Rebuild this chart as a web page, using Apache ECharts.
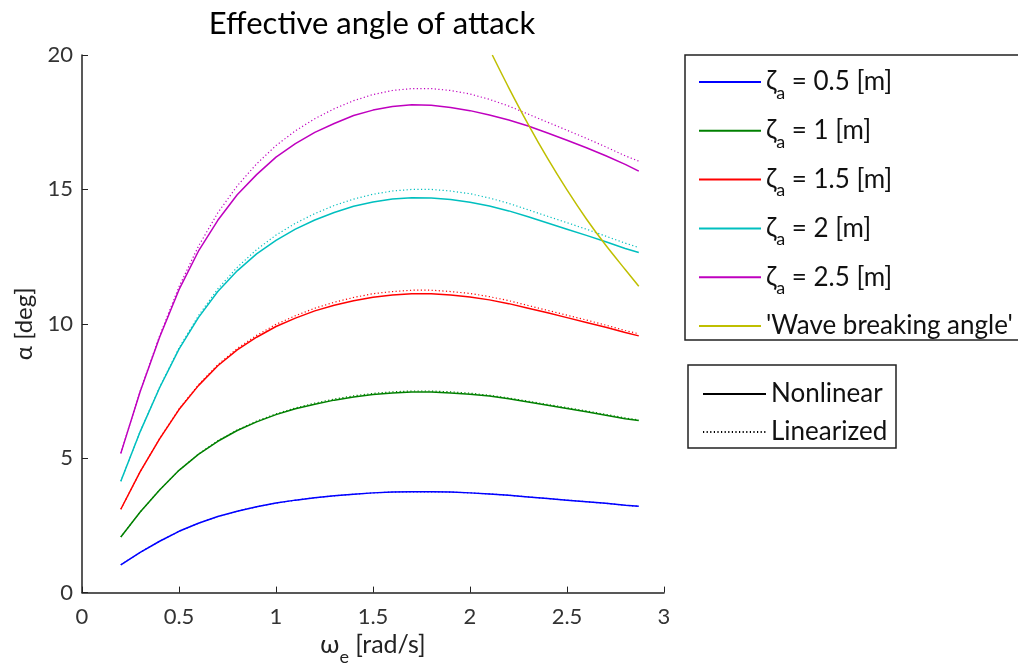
<!DOCTYPE html>
<html>
<head>
<meta charset="utf-8">
<script src="https://cdn.jsdelivr.net/npm/echarts@6/dist/echarts.min.js"></script>
<style>
  html, body { margin: 0; padding: 0; background: #fff; }
  #chart { width: 1018px; height: 671px; }
</style>
</head>
<body>
<div id="chart"></div>
<script>
// Encounter frequency grid [rad/s]
const omega = [0.2, 0.3, 0.4, 0.5, 0.6, 0.7, 0.8, 0.9, 1.0, 1.1, 1.2, 1.3, 1.4, 1.5,
               1.6, 1.7, 1.8, 1.9, 2.0, 2.1, 2.2, 2.3, 2.4, 2.5, 2.6, 2.7, 2.8, 2.87];

// Effective angle of attack [deg], nonlinear model
const nonlin05 = [1.03, 1.5, 1.91, 2.28, 2.58, 2.83, 3.03, 3.19, 3.33, 3.44, 3.53, 3.6, 3.66, 3.71,
                  3.74, 3.75, 3.75, 3.74, 3.71, 3.67, 3.62, 3.56, 3.5, 3.44, 3.38, 3.32, 3.25, 3.21];
const nonlin10 = [2.07, 3.0, 3.82, 4.55, 5.14, 5.63, 6.03, 6.35, 6.62, 6.84, 7.01, 7.16, 7.28, 7.37,
                  7.43, 7.46, 7.46, 7.43, 7.38, 7.31, 7.21, 7.09, 6.97, 6.85, 6.73, 6.6, 6.47, 6.4];
const nonlin15 = [3.1, 4.5, 5.72, 6.81, 7.7, 8.44, 9.03, 9.5, 9.9, 10.21, 10.48, 10.69, 10.86, 10.99,
                  11.07, 11.12, 11.12, 11.07, 11.0, 10.89, 10.75, 10.58, 10.41, 10.23, 10.05, 9.87, 9.68, 9.55];
const nonlin20 = [4.14, 5.99, 7.62, 9.06, 10.23, 11.2, 11.97, 12.6, 13.1, 13.52, 13.86, 14.14, 14.37, 14.53,
                  14.64, 14.69, 14.68, 14.62, 14.52, 14.38, 14.2, 13.98, 13.75, 13.52, 13.29, 13.05, 12.8, 12.65];
const nonlin25 = [5.18, 7.48, 9.5, 11.27, 12.7, 13.85, 14.8, 15.55, 16.2, 16.7, 17.12, 17.45, 17.75, 17.95,
                  18.08, 18.15, 18.13, 18.05, 17.93, 17.77, 17.58, 17.36, 17.1, 16.83, 16.55, 16.25, 15.93, 15.68];

// Effective angle of attack [deg], linearized model
const lin05 = [1.04, 1.5, 1.91, 2.28, 2.58, 2.83, 3.03, 3.19, 3.33, 3.44, 3.53, 3.6, 3.66, 3.71,
               3.74, 3.75, 3.75, 3.74, 3.71, 3.67, 3.62, 3.56, 3.5, 3.44, 3.38, 3.32, 3.25, 3.21];
const lin10 = [2.07, 3.0, 3.82, 4.55, 5.15, 5.65, 6.05, 6.38, 6.65, 6.87, 7.05, 7.2, 7.32, 7.41,
               7.47, 7.5, 7.5, 7.47, 7.42, 7.34, 7.24, 7.12, 7.0, 6.88, 6.76, 6.63, 6.5, 6.42];
const lin15 = [3.1, 4.5, 5.73, 6.83, 7.73, 8.48, 9.08, 9.57, 9.98, 10.3, 10.58, 10.8, 10.98, 11.12,
               11.2, 11.25, 11.25, 11.2, 11.13, 11.01, 10.86, 10.68, 10.5, 10.32, 10.14, 9.95, 9.75, 9.63];
const lin20 = [4.14, 6.0, 7.64, 9.1, 10.3, 11.3, 12.1, 12.76, 13.3, 13.74, 14.1, 14.4, 14.64, 14.82,
               14.94, 15.0, 15.0, 14.94, 14.84, 14.68, 14.48, 14.24, 14.0, 13.76, 13.52, 13.26, 13.0, 12.84];
const lin25 = [5.18, 7.5, 9.55, 11.38, 12.88, 14.13, 15.13, 15.95, 16.63, 17.18, 17.63, 18.0, 18.3, 18.53,
               18.68, 18.75, 18.75, 18.68, 18.55, 18.35, 18.1, 17.8, 17.5, 17.2, 16.9, 16.58, 16.25, 16.05];

// Wave breaking limit
const breakOmega = [2.115, 2.2, 2.3, 2.4, 2.5, 2.6, 2.7, 2.8, 2.87];
const breakAngle = [20.0, 18.78, 17.42, 16.15, 14.98, 13.9, 12.92, 12.02, 11.4];

const amplitudeLabels = ['0.5', '1', '1.5', '2', '2.5'];
const amplitudeColors = ['#0000ff', '#008000', '#ff0000', '#00bfbf', '#bf00bf'];
const breakColor = '#bfbf00';
const nonlinSets = [nonlin05, nonlin10, nonlin15, nonlin20, nonlin25];
const linSets = [lin05, lin10, lin15, lin20, lin25];

const xTicks = [0, 0.5, 1, 1.5, 2, 2.5, 3];
const yTicks = [0, 5, 10, 15, 20];

const FONT = 'Lato, "DejaVu Sans", sans-serif';
const zetaName = a => 'ζa = ' + a + ' [m]';
const breakName = "'Wave breaking angle'";
const DOTS = [1.2, 2.4];

const pairs = (xs, ys) => xs.map((x, i) => [x, ys[i]]);

const series = [];
amplitudeLabels.forEach((a, k) => {
  series.push({
    name: zetaName(a), type: 'line', symbol: 'none', silent: true,
    data: pairs(omega, nonlinSets[k]),
    lineStyle: { color: amplitudeColors[k], width: 1.5 },
    itemStyle: { color: amplitudeColors[k] },
    z: 3
  });
});
amplitudeLabels.forEach((a, k) => {
  series.push({
    name: zetaName(a) + ' linearized', type: 'line', symbol: 'none', silent: true,
    data: pairs(omega, linSets[k]),
    lineStyle: { color: amplitudeColors[k], width: 1.2, type: DOTS },
    itemStyle: { color: amplitudeColors[k] },
    z: 2
  });
});
series.push({
  name: breakName, type: 'line', symbol: 'none', silent: true, smooth: 0.3,
  data: pairs(breakOmega, breakAngle),
  lineStyle: { color: breakColor, width: 1.5 },
  itemStyle: { color: breakColor },
  z: 4
});
// Style-key entries (no data, only shown in the second legend)
series.push({
  name: 'Nonlinear', type: 'line', symbol: 'none', data: [],
  lineStyle: { color: '#000', width: 1.5 }, itemStyle: { color: '#000' }
});
series.push({
  name: 'Linearized', type: 'line', symbol: 'none', data: [],
  lineStyle: { color: '#000', width: 1.2, type: DOTS }, itemStyle: { color: '#000' }
});

const TXT = '#111';
// Subscripts: a short token box aligned to the bottom of the line drops the glyph
const legendRich = {
  z: { fontFamily: FONT, fontSize: 26, color: TXT, lineHeight: 30, verticalAlign: 'middle' },
  s: { fontFamily: FONT, fontSize: 18, color: TXT, height: 8, lineHeight: 8, verticalAlign: 'bottom' },
  t: { fontFamily: FONT, fontSize: 26, color: TXT, lineHeight: 30, verticalAlign: 'middle' }
};

const chart = echarts.init(document.getElementById('chart'), null, { renderer: 'canvas' });
chart.setOption({
  backgroundColor: '#fff',
  animation: false,
  title: {
    text: 'Effective angle of attack',
    left: 367, top: 3, textAlign: 'center',
    textStyle: { fontFamily: FONT, fontSize: 31, fontWeight: 'normal', color: '#000' }
  },
  graphic: [
    { type: 'rect', shape: { x: 685, y: 55, width: 400, height: 285 },
      style: { fill: 'none', stroke: '#222', lineWidth: 1.5 }, silent: true, z: 10 },
    { type: 'rect', shape: { x: 688, y: 365, width: 208, height: 83 },
      style: { fill: 'none', stroke: '#222', lineWidth: 1.5 }, silent: true, z: 10 }
  ],
  grid: { left: 82, right: 354, top: 55, bottom: 78, containLabel: false },
  xAxis: {
    type: 'value', min: 0, max: 3, interval: 0.5,
    name: '{a|ω}{s|e}{a| [rad/s]}',
    nameLocation: 'middle', nameGap: 26,
    nameTextStyle: {
      rich: {
        a: { fontFamily: FONT, fontSize: 25, color: '#222', lineHeight: 30, verticalAlign: 'middle' },
        s: { fontFamily: FONT, fontSize: 18, color: '#222', height: 6, lineHeight: 6, verticalAlign: 'bottom' }
      }
    },
    axisLine: { lineStyle: { color: '#222', width: 1.5 } },
    axisTick: { inside: true, length: 6, lineStyle: { color: '#222', width: 1 } },
    axisLabel: { fontFamily: FONT, fontSize: 22, color: '#333', margin: 13,
                 formatter: v => String(xTicks.find(t => Math.abs(t - v) < 1e-9) ?? v) },
    splitLine: { show: false }
  },
  yAxis: {
    type: 'value', min: 0, max: 20, interval: 5,
    name: 'α [deg]',
    nameLocation: 'middle', nameGap: 46, nameRotate: 90,
    nameTextStyle: { fontFamily: FONT, fontSize: 24, color: '#222' },
    axisLine: { show: true, lineStyle: { color: '#222', width: 1.5 } },
    axisTick: { show: true, inside: true, length: 6, lineStyle: { color: '#222', width: 1 } },
    axisLabel: { fontFamily: FONT, fontSize: 22, color: '#333', margin: 9,
                 formatter: v => String(yTicks.find(t => Math.abs(t - v) < 1e-9) ?? v) },
    splitLine: { show: false }
  },
  legend: [
    {
      orient: 'vertical', left: 698, top: 69,
      data: amplitudeLabels.map(zetaName).concat([breakName]),
      itemWidth: 62, itemHeight: 14, itemGap: 15.8,
      padding: 0,
      selectedMode: false,
      itemStyle: { opacity: 0 },
      // every row gets the same (subscript-depth) height so rows stay evenly spaced
      formatter: name => name.startsWith('ζa')
        ? '{z|ζ}{s|a}{t|' + name.slice(2) + '}'
        : '{t|' + name + '}{s| }',
      textStyle: { rich: legendRich }
    },
    {
      orient: 'vertical', left: 702, top: 379,
      data: ['Nonlinear', 'Linearized'],
      itemWidth: 63, itemHeight: 14, itemGap: 8,
      padding: 0,
      selectedMode: false,
      itemStyle: { opacity: 0 },
      textStyle: { fontFamily: FONT, fontSize: 26, color: TXT, lineHeight: 30 }
    }
  ],
  series: series
});
</script>
</body>
</html>
